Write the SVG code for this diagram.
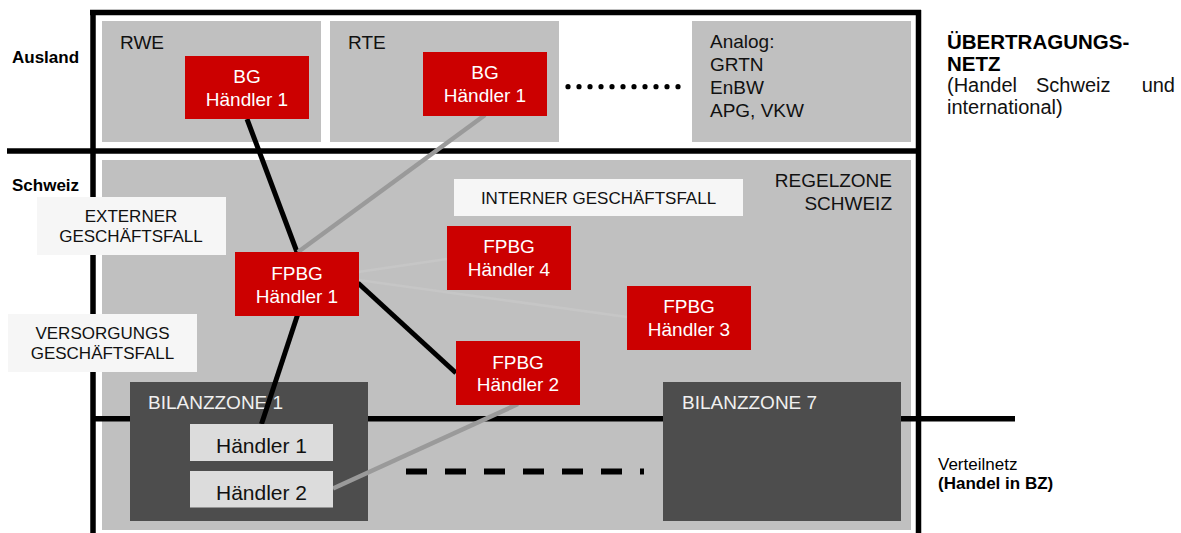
<svg xmlns="http://www.w3.org/2000/svg" width="1181" height="533" viewBox="0 0 1181 533">
<style>
text{font-family:"Liberation Sans",Arial,sans-serif;}
.zone{fill:#c0c0c0;}
.bz{fill:#4d4d4d;}
.red{fill:#cc0000;}
.lt{fill:#dcdcdc;}
.lbl{fill:#f6f6f6;}
.frame{stroke:#000;stroke-width:5.5;fill:none;}
.t19{font-size:19px;fill:#111;}
.tw{font-size:19px;fill:#fff;text-anchor:middle;}
.tb{font-size:17px;fill:#111;text-anchor:middle;}
.side{font-size:17px;font-weight:bold;fill:#000;}
.blk{stroke:#000;stroke-width:5;fill:none;}
.gry{stroke:#9a9a9a;stroke-width:4.5;fill:none;}
.fnt{stroke:#c6c6c6;stroke-width:2.5;fill:none;}
</style>
<rect width="1181" height="533" fill="#fff"/>
<g id="frame">
<line class="frame" x1="90" y1="12.5" x2="921" y2="12.5"/>
<line class="frame" x1="93" y1="10" x2="93" y2="533"/>
<line class="frame" x1="918.5" y1="10" x2="918.5" y2="533"/>
<line class="frame" x1="7" y1="151" x2="921" y2="151" stroke-width="6"/>
</g>
<g id="zone-rwe"><rect class="zone" x="102" y="21" width="219" height="121"/><text class="t19" x="120" y="49">RWE</text></g>
<g id="zone-rte"><rect class="zone" x="330" y="21" width="229" height="121"/><text class="t19" x="348" y="49">RTE</text></g>
<g id="zone-analog"><rect class="zone" x="692" y="21" width="219" height="121"/>
<text class="t19" x="710"><tspan x="710" y="48">Analog:</tspan><tspan x="710" y="71">GRTN</tspan><tspan x="710" y="94">EnBW</tspan><tspan x="710" y="117">APG, VKW</tspan></text></g>
<g id="dots" fill="#000">
<circle cx="568" cy="86.7" r="2.6"/><circle cx="579" cy="86.7" r="2.6"/><circle cx="590" cy="86.7" r="2.6"/><circle cx="601" cy="86.7" r="2.6"/><circle cx="612" cy="86.7" r="2.6"/><circle cx="623" cy="86.7" r="2.6"/><circle cx="634" cy="86.7" r="2.6"/><circle cx="645" cy="86.7" r="2.6"/><circle cx="656" cy="86.7" r="2.6"/><circle cx="667" cy="86.7" r="2.6"/><circle cx="678" cy="86.7" r="2.6"/>
</g>
<g id="regelzone"><rect class="zone" x="102" y="160" width="809" height="370"/>
<text class="t19" text-anchor="end"><tspan x="892" y="187">REGELZONE</tspan><tspan x="892" y="210">SCHWEIZ</tspan></text></g>
<g id="bz-line"><line class="frame" x1="93" y1="418.7" x2="1015" y2="418.7" stroke-width="6.5"/></g>
<g id="bilanzzone1"><rect class="bz" x="130" y="382" width="238" height="139"/><text x="148" y="409" font-size="19" fill="#f0f0f0">BILANZZONE 1</text></g>
<g id="bilanzzone7"><rect class="bz" x="663" y="382" width="238" height="139"/><text x="682" y="409" font-size="19" fill="#f0f0f0">BILANZZONE 7</text></g>
<g id="bz-dashes"><line x1="406" y1="471.5" x2="644" y2="471.5" stroke="#000" stroke-width="6" stroke-dasharray="21 18"/></g>
<g id="label-extern"><rect class="lbl" x="37" y="197" width="189" height="58"/><text class="tb"><tspan x="131" y="222">EXTERNER</tspan><tspan x="131" y="242">GESCHÄFTSFALL</tspan></text></g>
<g id="label-versorgung"><rect class="lbl" x="8" y="314" width="189" height="58"/><text class="tb"><tspan x="102.5" y="339">VERSORGUNGS</tspan><tspan x="102.5" y="359">GESCHÄFTSFALL</tspan></text></g>
<g id="label-intern"><rect class="lbl" x="454" y="179" width="289" height="37"/><text class="tb" x="598.5" y="204">INTERNER GESCHÄFTSFALL</text></g>
<g id="connectors">
<line class="fnt" x1="358" y1="272" x2="447" y2="259"/>
<line class="fnt" x1="358" y1="280" x2="627" y2="317"/>
<line class="blk" x1="247" y1="119" x2="297" y2="252"/>
<line class="gry" x1="485" y1="115" x2="298" y2="252"/>
<line class="blk" x1="358" y1="283" x2="456" y2="373"/>
<line class="blk" x1="297.5" y1="315" x2="261.5" y2="424"/>
<line class="gry" x1="518" y1="404" x2="333" y2="488.5"/>
</g>
<g id="bg-rwe"><rect class="red" x="185" y="56" width="124" height="63"/><text class="tw"><tspan x="247" y="82.5">BG</tspan><tspan x="247" y="106">Händler 1</tspan></text></g>
<g id="bg-rte"><rect class="red" x="423" y="52" width="124" height="64"/><text class="tw"><tspan x="485" y="78.5">BG</tspan><tspan x="485" y="102">Händler 1</tspan></text></g>
<g id="fpbg1"><rect class="red" x="235" y="252" width="124" height="64"/><text class="tw"><tspan x="297" y="280">FPBG</tspan><tspan x="297" y="303">Händler 1</tspan></text></g>
<g id="fpbg4"><rect class="red" x="447" y="226" width="124" height="64"/><text class="tw"><tspan x="509" y="253">FPBG</tspan><tspan x="509" y="276">Händler 4</tspan></text></g>
<g id="fpbg3"><rect class="red" x="627" y="286" width="124" height="64"/><text class="tw"><tspan x="689" y="313">FPBG</tspan><tspan x="689" y="336">Händler 3</tspan></text></g>
<g id="fpbg2"><rect class="red" x="456" y="341" width="124" height="64"/><text class="tw"><tspan x="518" y="368.5">FPBG</tspan><tspan x="518" y="391">Händler 2</tspan></text></g>
<g id="bz1-h1"><rect class="lt" x="190" y="424" width="143" height="37"/><text x="261.5" y="453" font-size="21" fill="#111" text-anchor="middle">Händler 1</text></g>
<g id="bz1-h2"><rect class="lt" x="190" y="471" width="143" height="36.5"/><text x="261.5" y="499.5" font-size="21" fill="#111" text-anchor="middle">Händler 2</text></g>
<g id="side-labels">
<text class="side" x="12" y="62.5">Ausland</text>
<text class="side" x="12" y="191">Schweiz</text>
<text x="947" y="48.5" font-size="20.5" font-weight="bold" fill="#000">ÜBERTRAGUNGS-</text>
<text x="947" y="71" font-size="20.5" font-weight="bold" fill="#000">NETZ</text>
<text font-size="20" fill="#111"><tspan x="947" y="92">(Handel</tspan><tspan x="1036" y="92">Schweiz</tspan><tspan x="1175" y="92" text-anchor="end">und</tspan><tspan x="947" y="114">international)</tspan></text>
<text x="938" y="470" font-size="17" fill="#000">Verteilnetz</text>
<text x="938" y="489" font-size="17" font-weight="bold" fill="#000">(Handel in BZ)</text>
</g>
</svg>
